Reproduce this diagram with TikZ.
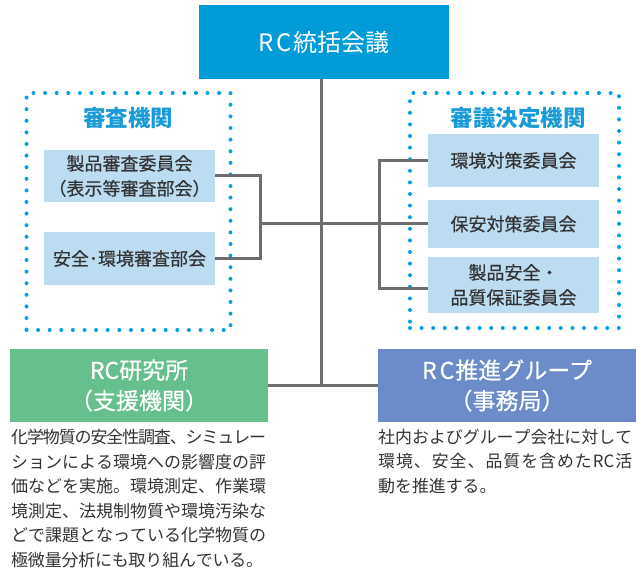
\documentclass[tikz,border=0pt]{standalone}
\usepackage{fontspec}
\setmainfont{Noto Sans CJK JP}
\newfontfamily\medfont[FakeBold=0.5]{Noto Sans CJK JP}
\definecolor{topblue}{HTML}{009CDA}
\definecolor{dotblue}{HTML}{00A0E2}
\definecolor{titleblue}{HTML}{1A9AD6}
\definecolor{paleblue}{HTML}{BCDCF2}
\definecolor{rcgreen}{HTML}{66C08E}
\definecolor{rcviolet}{HTML}{6B8CC8}
\definecolor{linegray}{HTML}{6E6E6E}
\definecolor{txt}{HTML}{333333}
% justified line: characters spread to a given width
\newcommand\jline[2]{\hbox to #1{\jfirst#2\relax}}
\def\jfirst#1{#1\jaux}
\def\jaux#1{\ifx\relax#1\else\hskip 0pt plus 1fil minus 1fil#1\expandafter\jaux\fi}
\tikzset{
  topbox/.style={fill=topblue, text=white, minimum width=250pt, minimum height=74pt, inner sep=0pt, font=\fontsize{24}{28}\selectfont},
  dotbox/.style={draw=dotblue, line width=4pt, line cap=round, dash pattern=on 0pt off 11.6pt, inner sep=0pt},
  grouptitle/.style={text=titleblue, font=\bfseries\fontsize{22.5}{26}\selectfont, inner sep=0pt},
  member/.style={fill=paleblue, text=txt, minimum width=171pt, inner sep=0pt, align=center, font=\medfont\fontsize{18}{25}\selectfont},
  bottombox/.style={text=white, minimum width=258pt, minimum height=73pt, inner sep=0pt, align=center, font=\medfont\fontsize{23}{30.5}\selectfont},
  conn/.style={draw=linegray, line width=3pt},
  desc/.style={text=txt, inner sep=0pt, align=left, anchor=north west},
}
\begin{document}
\begin{tikzpicture}[x=1pt, y=-1pt]
\useasboundingbox (0,0) rectangle (637,572);
% groups
\node[dotbox, minimum width=204pt, minimum height=237pt] (lgroup) at (128.5,211.5) {};
\node[dotbox, minimum width=209pt, minimum height=235pt] (rgroup) at (514.5,210.5) {};
\node[grouptitle] (ltitle) at (128,118) {審査機関};
\node[grouptitle] (rtitle) at (518,118) {審議決定機関};
% top
\node[topbox] (top) at (324,42) {R\hspace{3pt}C\hspace{1pt}統括会議};
% left members
\node[member, minimum height=52pt] (lb1) at (129.5,176) {製品審査委員会\\（表示等審査部会）};
\node[member, minimum height=53pt] (lb2) at (129.5,258.5) {安全･環境審査部会};
% right members
\node[member, minimum height=53pt] (rb1) at (513.5,160.5) {環境対策委員会};
\node[member, minimum height=48pt] (rb2) at (513.5,224) {保安対策委員会};
\node[member, minimum height=56pt] (rb3) at (513.5,285) {製品安全・\\品質保証委員会};
% bottom
\node[bottombox, fill=rcgreen] (gb) at (139,385.5) {RC研究所\\（支援機関）};
\node[bottombox, fill=rcviolet] (bb) at (507,385.5) {R\hspace{3pt}C\hspace{1pt}推進グループ\\（事務局）};
% junctions
\coordinate (j1) at (321,224);
\coordinate (j2) at (321,385.5);
\coordinate (lbr) at (260,224);
\coordinate (rbr) at (379,224);
% connectors
\draw[conn] (top.south -| j1) -- (j2);
\draw[conn] (lb1.east) -| (lbr) |- (lb2.east);
\draw[conn] (lbr) -- (j1);
\draw[conn] (rb1.west) -| (rbr) |- ([yshift=-3pt]rb3.west);
\draw[conn] (j1) -- (rb2.west);
\draw[conn] (gb.east) -- (bb.west);
% descriptions
\node[desc, font=\fontsize{17}{24.5}\selectfont] (gdesc) at (11,429) {%
\jline{255pt}{化学物質の安全性調査、シミュレー}\\
\jline{255pt}{ションによる環境への影響度の評}\\
\jline{255pt}{価などを実施。環境測定、作業環}\\
\jline{255pt}{境測定、法規制物質や環境汚染な}\\
\jline{255pt}{どで課題となっている化学物質の}\\
\jline{252pt}{極微量分析にも取り組んでいる。}};
\node[desc, font=\fontsize{16.9}{24.5}\selectfont] (bdesc) at (378,429) {%
\jline{254pt}{社内およびグループ会社に対して}\\
\jline{254pt}{環境、安全、品質を含めた{RC}活}\\
動を推進する。};
\end{tikzpicture}
\end{document}
